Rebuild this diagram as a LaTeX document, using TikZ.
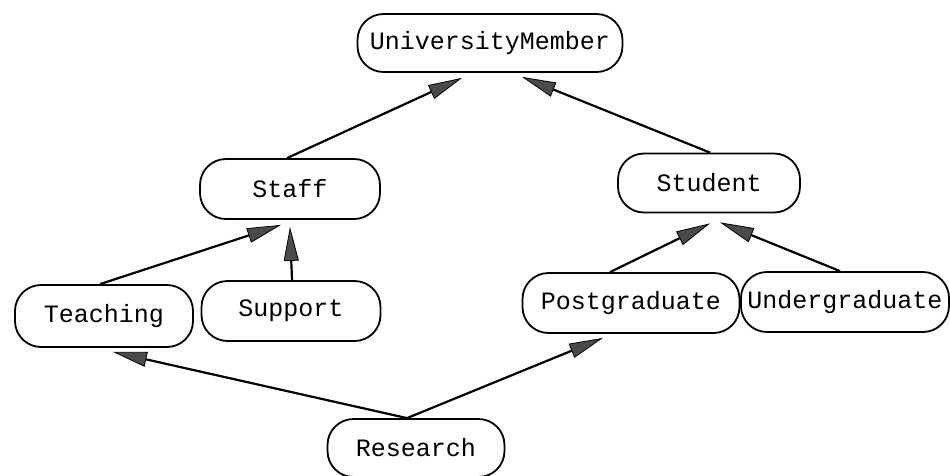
\documentclass[tikz,border=0pt]{standalone}
\usepackage{fontspec}
\setmonofont{Liberation Mono}
\usetikzlibrary{arrows.meta}
\definecolor{headgray}{HTML}{4A4A4A}
\tikzset{
  cls/.style={draw, line width=1.8pt, rounded corners=26pt, inner sep=0pt,
    font=\ttfamily\fontsize{25}{30}\selectfont, minimum height=60pt},
  isa/.style={line width=2.2pt,
    -{Triangle[length=34pt,width=15pt,fill=headgray,line width=0.8pt]}},
}
\begin{document}
\begin{tikzpicture}[x=1pt,y=-1pt]
  \useasboundingbox (0,0) rectangle (950,475);
  % class boxes
  \node[cls, minimum width=265pt, minimum height=58pt] (um) at (490,43) {UniversityMember};
  \node[cls, minimum width=180pt] (staff) at (290,189) {Staff};
  \node[cls, minimum width=182pt, minimum height=59pt] (student) at (709,183) {Student};
  \node[cls, minimum width=178pt, minimum height=62pt] (teaching) at (104,316) {Teaching};
  \node[cls, minimum width=179pt] (support) at (291,311) {Support};
  \node[cls, minimum width=217pt] (postgrad) at (631,303) {Postgraduate};
  \node[cls, minimum width=208pt] (undergrad) at (845,302) {Undergraduate};
  \node[cls, minimum width=177pt, minimum height=58pt] (research) at (416,448) {Research};
  % generalisation arrows
  \draw[isa] ([xshift=-3pt]staff.north) -- ([xshift=-28pt,yshift=-5pt]um.south);
  \draw[isa] ([xshift=1pt]student.north) -- ([xshift=32pt,yshift=-4pt]um.south);
  \draw[isa] ([xshift=-4pt]teaching.north) -- ([xshift=-9pt,yshift=-5pt]staff.south);
  \draw[isa] ([xshift=1pt]support.north) -- ([xshift=0pt,yshift=-7pt]staff.south);
  \draw[isa] ([xshift=-21pt]postgrad.north) -- ([xshift=1pt,yshift=-10pt]student.south);
  \draw[isa] ([xshift=-5pt]undergrad.north) -- ([xshift=11pt,yshift=-9pt]student.south);
  \draw[isa] ([xshift=-9pt]research.north) -- ([xshift=9pt,yshift=-4pt]teaching.south);
  \draw[isa] ([xshift=-9pt]research.north) -- ([xshift=-28pt,yshift=-4pt]postgrad.south);
\end{tikzpicture}
\end{document}
